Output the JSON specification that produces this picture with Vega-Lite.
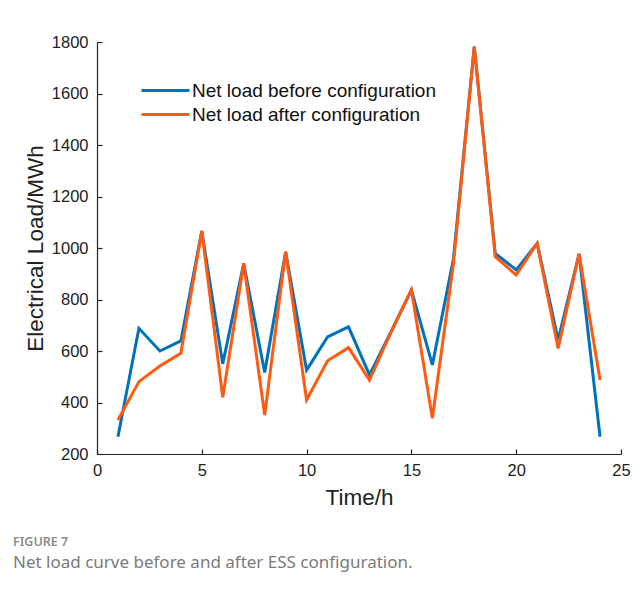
{
  "$schema": "https://vega.github.io/schema/vega-lite/v6.json",
  "width": 524,
  "height": 412,
  "autosize": "none",
  "padding": {"left": 97, "top": 42, "right": 22, "bottom": 140},
  "background": "white",
  "title": {
    "text": "FIGURE 7",
    "subtitle": "Net load curve before and after ESS configuration.",
    "orient": "bottom",
    "anchor": "start",
    "frame": "group",
    "dx": -84,
    "offset": 27,
    "font": "Noto Sans",
    "fontSize": 12.5,
    "fontWeight": 600,
    "color": "#8a8a8a",
    "subtitleFont": "Noto Sans",
    "subtitleFontSize": 17,
    "subtitleColor": "#7a7a7a",
    "subtitlePadding": 6
  },
  "data": {
    "values": [
      {"t": 1, "series": "Net load before configuration", "v": 267},
      {"t": 2, "series": "Net load before configuration", "v": 688},
      {"t": 3, "series": "Net load before configuration", "v": 600},
      {"t": 4, "series": "Net load before configuration", "v": 639},
      {"t": 5, "series": "Net load before configuration", "v": 1066},
      {"t": 6, "series": "Net load before configuration", "v": 550},
      {"t": 7, "series": "Net load before configuration", "v": 940},
      {"t": 8, "series": "Net load before configuration", "v": 517},
      {"t": 9, "series": "Net load before configuration", "v": 985},
      {"t": 10, "series": "Net load before configuration", "v": 526},
      {"t": 11, "series": "Net load before configuration", "v": 655},
      {"t": 12, "series": "Net load before configuration", "v": 694},
      {"t": 13, "series": "Net load before configuration", "v": 507},
      {"t": 14, "series": "Net load before configuration", "v": 670},
      {"t": 15, "series": "Net load before configuration", "v": 837},
      {"t": 16, "series": "Net load before configuration", "v": 546},
      {"t": 17, "series": "Net load before configuration", "v": 955},
      {"t": 18, "series": "Net load before configuration", "v": 1782},
      {"t": 19, "series": "Net load before configuration", "v": 979},
      {"t": 20, "series": "Net load before configuration", "v": 915},
      {"t": 21, "series": "Net load before configuration", "v": 1018},
      {"t": 22, "series": "Net load before configuration", "v": 643},
      {"t": 23, "series": "Net load before configuration", "v": 977},
      {"t": 24, "series": "Net load before configuration", "v": 267},
      {"t": 1, "series": "Net load after configuration", "v": 332},
      {"t": 2, "series": "Net load after configuration", "v": 481},
      {"t": 3, "series": "Net load after configuration", "v": 542},
      {"t": 4, "series": "Net load after configuration", "v": 591},
      {"t": 5, "series": "Net load after configuration", "v": 1066},
      {"t": 6, "series": "Net load after configuration", "v": 420},
      {"t": 7, "series": "Net load after configuration", "v": 940},
      {"t": 8, "series": "Net load after configuration", "v": 351},
      {"t": 9, "series": "Net load after configuration", "v": 986},
      {"t": 10, "series": "Net load after configuration", "v": 410},
      {"t": 11, "series": "Net load after configuration", "v": 562},
      {"t": 12, "series": "Net load after configuration", "v": 613},
      {"t": 13, "series": "Net load after configuration", "v": 487},
      {"t": 14, "series": "Net load after configuration", "v": 668},
      {"t": 15, "series": "Net load after configuration", "v": 837},
      {"t": 16, "series": "Net load after configuration", "v": 339},
      {"t": 17, "series": "Net load after configuration", "v": 935},
      {"t": 18, "series": "Net load after configuration", "v": 1782},
      {"t": 19, "series": "Net load after configuration", "v": 966},
      {"t": 20, "series": "Net load after configuration", "v": 895},
      {"t": 21, "series": "Net load after configuration", "v": 1018},
      {"t": 22, "series": "Net load after configuration", "v": 610},
      {"t": 23, "series": "Net load after configuration", "v": 977},
      {"t": 24, "series": "Net load after configuration", "v": 487}
    ]
  },
  "mark": {"type": "line", "strokeWidth": 3, "strokeJoin": "miter", "strokeCap": "butt"},
  "encoding": {
    "x": {
      "field": "t",
      "type": "quantitative",
      "scale": {"domain": [0, 25], "nice": false, "zero": false},
      "axis": {
        "title": "Time/h",
        "values": [0, 5, 10, 15, 20, 25],
        "format": "d",
        "grid": false,
        "labelFlush": false,
        "tickSize": -5,
        "labelPadding": 13,
        "titlePadding": 8
      }
    },
    "y": {
      "field": "v",
      "type": "quantitative",
      "scale": {"domain": [200, 1800], "nice": false, "zero": false},
      "axis": {
        "title": "Electrical Load/MWh",
        "values": [200, 400, 600, 800, 1000, 1200, 1400, 1600, 1800],
        "format": "d",
        "grid": false,
        "labelFlush": false,
        "tickSize": -5,
        "labelPadding": 14,
        "titlePadding": 4
      }
    },
    "color": {
      "field": "series",
      "type": "nominal",
      "sort": ["Net load before configuration", "Net load after configuration"],
      "scale": {
        "domain": ["Net load before configuration", "Net load after configuration"],
        "range": ["#0072BD", "#FF5A0F"]
      },
      "legend": {
        "title": null,
        "orient": "none",
        "legendX": 59,
        "legendY": 39,
        "symbolType": "M-3,0H3",
        "symbolSize": 256,
        "symbolStrokeWidth": 3,
        "labelFontSize": 19,
        "labelFont": "Arial",
        "labelColor": "#111111",
        "labelLimit": 400,
        "rowPadding": 4,
        "labelOffset": 17
      }
    }
  },
  "config": {
    "view": {"stroke": null},
    "axis": {
      "domainColor": "#222222",
      "domainWidth": 1.2,
      "tickColor": "#222222",
      "tickWidth": 1.2,
      "labelFont": "Arial",
      "labelFontSize": 16.5,
      "labelColor": "#222222",
      "titleFont": "Arial",
      "titleFontSize": 22.5,
      "titleFontWeight": "normal",
      "titleColor": "#222222"
    }
  }
}
